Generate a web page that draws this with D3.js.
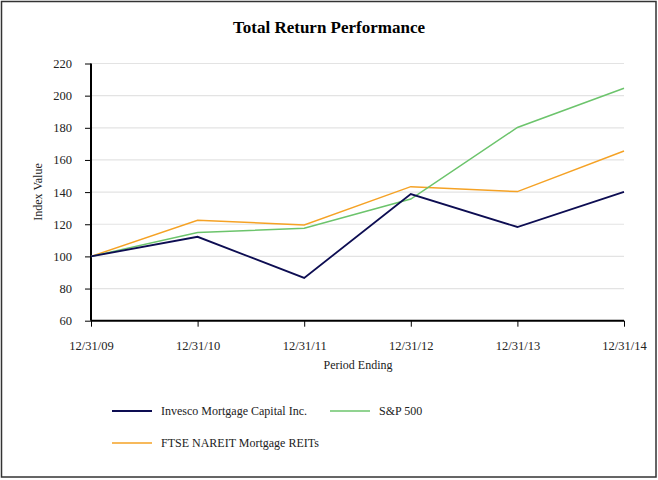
<!DOCTYPE html>
<html><head><meta charset="utf-8">
<script src="https://cdn.jsdelivr.net/npm/d3@7"></script>
<style>body{margin:0;background:#fff}svg, svg text{font-family:"Liberation Serif","Times New Roman","DejaVu Serif",serif !important}</style>
</head><body><svg id="c" width="658" height="480"></svg>
<script>
const periods = ["12/31/09","12/31/10","12/31/11","12/31/12","12/31/13","12/31/14"];
const invesco = [100, 112.2, 86.6, 138.8, 118.3, 140.1];
const sp500 = [100, 114.9, 117.5, 135.7, 180.2, 204.6];
const ftse = [100, 122.5, 119.5, 143.4, 140.3, 165.6];
const yTicks = [60,80,100,120,140,160,180,200,220];
const seriesNames = ["Invesco Mortgage Capital Inc.","S&P 500","FTSE NAREIT Mortgage REITs"];
const colors = ["#0d0d52","#6cc46c","#f5a225"];

const svg = d3.select("#c");
svg.append("rect").attr("x",1.5).attr("y",1.5).attr("width",654.5).attr("height",475.5).attr("fill","none").attr("stroke","#333").attr("stroke-width",1.5);

const x = d3.scalePoint().domain(periods).range([91,624]);
const y = d3.scaleLinear().domain([60,220]).range([320.7,63.5]);

svg.append("g").selectAll("line").data(yTicks.filter(d=>d>60)).join("line")
  .attr("x1",91).attr("x2",624).attr("y1",d=>y(d)).attr("y2",d=>y(d))
  .attr("stroke","#e3e3e3").attr("stroke-width",1.2);

const yAxis = svg.append("g").attr("transform","translate(91,0)")
  .call(d3.axisLeft(y).tickValues(yTicks).tickSize(6).tickPadding(13));
yAxis.attr("font-family",null).attr("font-size",null);
yAxis.select(".domain").attr("stroke","#000").attr("stroke-width",2).attr("d","M0,"+y(220)+"V"+y(60));
yAxis.selectAll(".tick line").attr("stroke","#000");
yAxis.selectAll("text").attr("font-size",12.5).attr("fill","#222");

const xAxis = svg.append("g").attr("transform","translate(0,"+y(60)+")")
  .call(d3.axisBottom(x).tickSize(6).tickPadding(14));
xAxis.attr("font-family",null).attr("font-size",null);
xAxis.select(".domain").attr("stroke","#000").attr("stroke-width",2).attr("d","M91,0H624");
xAxis.selectAll(".tick line").attr("stroke","#000");
xAxis.selectAll("text").attr("font-size",12.5).attr("fill","#222");

const data = [invesco, sp500, ftse];
const line = d3.line().x((d,i)=>x(periods[i])).y(d=>y(d));
[2,1,0].forEach(k=>{
  svg.append("path").attr("d",line(data[k])).attr("fill","none")
    .attr("stroke",colors[k]).attr("stroke-width",k===0?1.8:1.5);
});

svg.append("text").attr("x",329).attr("y",33).attr("text-anchor","middle")
  .attr("font-size",17).attr("font-weight","bold").attr("fill","#000").text("Total Return Performance");
svg.append("text").attr("transform","translate(42,192) rotate(-90)").attr("text-anchor","middle")
  .attr("font-size",12).attr("fill","#222").text("Index Value");
svg.append("text").attr("x",358).attr("y",369).attr("text-anchor","middle")
  .attr("font-size",12).attr("fill","#222").text("Period Ending");

const legendPos = [[112,411],[330,411],[112,443]];
seriesNames.forEach((n,i)=>{
  const [lx,ly] = legendPos[i];
  svg.append("line").attr("x1",lx).attr("x2",lx+40).attr("y1",ly).attr("y2",ly)
    .attr("stroke",colors[i]).attr("stroke-width",i===0?2:1.6);
  svg.append("text").attr("x",lx+49).attr("y",ly+4).attr("font-size",12).attr("fill","#222").text(n);
});
</script></body></html>
